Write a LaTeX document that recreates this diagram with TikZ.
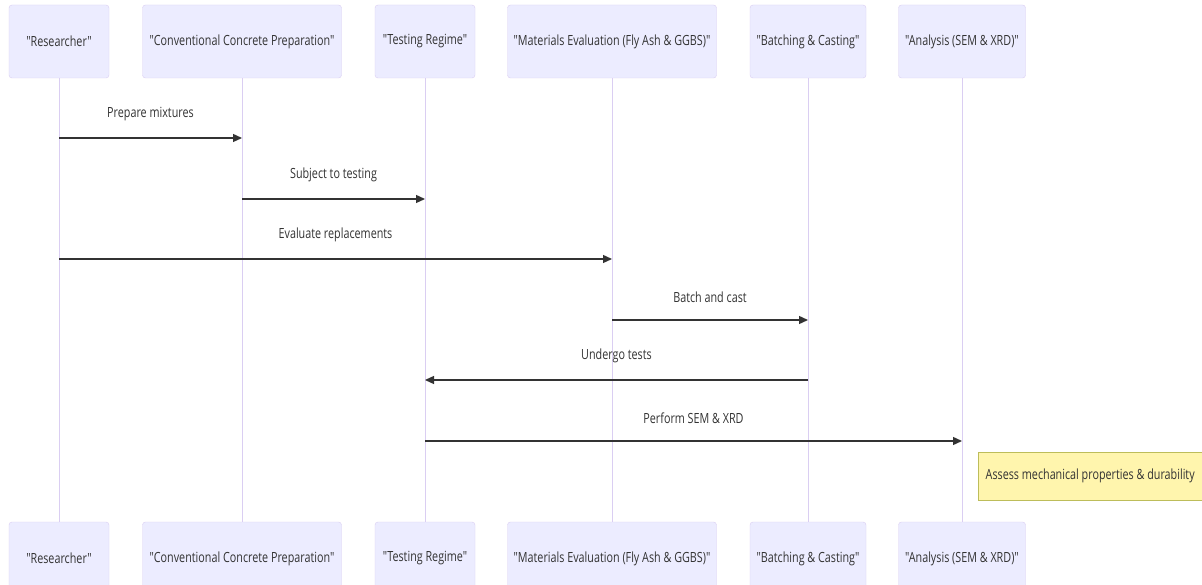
\documentclass[tikz,border=0pt]{standalone}
\usepackage{fontspec}
\setmainfont{Open Sans}[FakeStretch=0.77,Ligatures=TeXOff]
\usepackage{tikz}
\usetikzlibrary{arrows.meta}
\definecolor{actfill}{HTML}{ECECFF}
\definecolor{actline}{HTML}{DACEF2}
\definecolor{notefill}{HTML}{FFF5AD}
\definecolor{noteline}{HTML}{BDBD5A}
\definecolor{ink}{HTML}{333333}

\begin{document}
\begin{tikzpicture}[x=1pt,y=-1pt,
    actor/.style={draw=actline,fill=actfill,rounded corners=3pt,minimum height=73pt,
                  inner sep=0pt,text=ink,font=\fontsize{14}{16}\selectfont},
    msg/.style={draw=ink,line width=1.3pt,-{Triangle[length=9pt,width=8pt]}},
    msglabel/.style={text=ink,font=\fontsize{14}{16}\selectfont},
    note/.style={draw=noteline,fill=notefill,minimum width=224pt,minimum height=48pt,
                 inner sep=0pt,text=ink,font=\fontsize{14}{16}\selectfont}]
  \fill[white] (0,0) rectangle (1202,585);
  \useasboundingbox (0,0) rectangle (1202,585);
  % participants, top and bottom
  \foreach \n/\x/\w/\t in {res/59/100/"Researcher",
                           con/242/199/"Conventional Concrete Preparation",
                           tst/425/100/"Testing Regime",
                           mat/612/209/"Materials Evaluation (Fly Ash \& GGBS)",
                           bat/808/116/"Batching \& Casting",
                           ana/962/127/"Analysis (SEM \& XRD)"}{
    \node[actor,minimum width=\w pt] (\n) at (\x,41.5) {\t};
    \node[actor,minimum width=\w pt] (\n b) at (\x,558.5) {\t};
    \draw[actline,line width=1pt] (\n) -- (\n b);
  }
  % messages
  \foreach \a/\b/\y/\t in {res/con/138/Prepare mixtures,
                           con/tst/199/Subject to testing,
                           res/mat/259/Evaluate replacements,
                           mat/bat/320/Batch and cast,
                           bat/tst/380/Undergo tests,
                           tst/ana/441/Perform SEM \& XRD}{
    \draw[msg] (\a |- 0,\y) -- (\b |- 0,\y)
      node[msglabel,midway,above=13pt] {\t};
  }
  \node[note,anchor=west] (nt) at ([xshift=16pt]ana |- 0,476) {Assess mechanical properties \& durability};
\end{tikzpicture}
\end{document}
